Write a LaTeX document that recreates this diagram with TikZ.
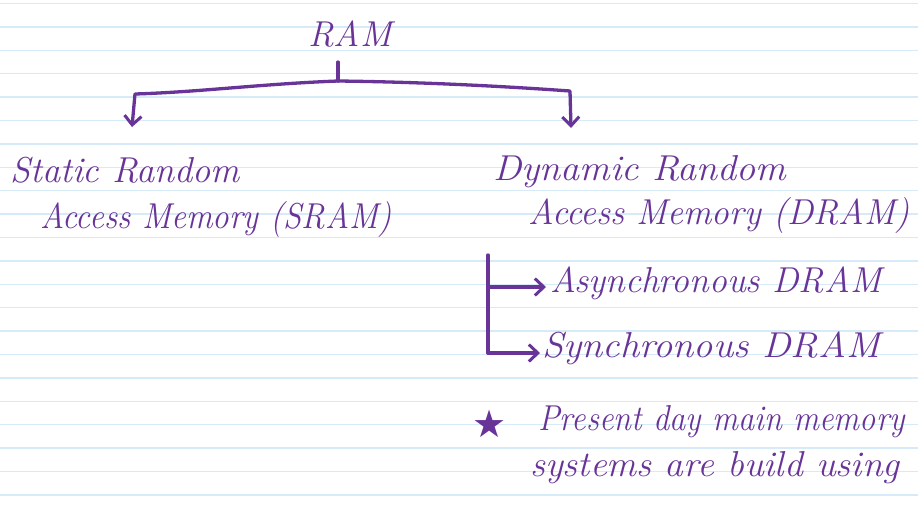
\documentclass[tikz,border=0pt]{standalone}
\usepackage{fontspec}
\newfontfamily\symfont{DejaVu Sans}
\usetikzlibrary{arrows.meta}
\definecolor{ink}{RGB}{104,52,152}
\definecolor{rule}{RGB}{214,234,248}
\newcommand{\hwx}[2]{\scalebox{#1}[1]{#2}}
\begin{document}
\begin{tikzpicture}[x=1pt,y=-1pt,
  hw/.style={text=ink,font=\fontsize{36}{40}\selectfont\itshape,anchor=base west,inner sep=0pt},
  pen/.style={draw=ink,line width=3.3pt,line cap=round,line join=round},
  tip/.style={-{Straight Barb[length=9pt,width=17pt,line width=3pt]}}]
\fill[white] (0,0) rectangle (918,504);
\useasboundingbox (0,0) rectangle (918,504);
\foreach \k in {0,...,21} \draw[rule,line width=1.3pt] (0,3.5+23.4*\k) -- (918,3.5+23.4*\k);
% nodes
\node[hw,anchor=base] (ram) at (350,46) {RAM};
\node[hw] (sram1) at (10,182) {\hwx{1.01}{Static Random}};
\node[hw] (sram2) at (40,228) {\hwx{0.92}{Access Memory (SRAM)}};
\node[hw] (dram1) at (493,180) {\hwx{1.06}{Dynamic Random}};
\node[hw] (dram2) at (528,224) {\hwx{0.98}{Access Memory (DRAM)}};
\node[hw] (async) at (550,292) {\hwx{0.99}{Asynchronous DRAM}};
\node[hw] (sync) at (542,357) {\hwx{1.07}{Synchronous DRAM}};
\node[text=ink,font=\fontsize{38}{40}\selectfont\symfont,inner sep=0pt] (star) at (490,424) {★};
\node[hw] (note1) at (538,430) {\hwx{0.9}{Present day main memory}};
\node[hw] (note2) at (530,476) {\hwx{1.04}{systems are build using}};
% connectors
\coordinate (top) at (338,62);
\coordinate (j) at (338,81);
\coordinate (lc) at (135,94);
\coordinate (rc) at (570,91);
\coordinate (la) at (132,127);
\coordinate (ra) at (571,128);
\draw[pen] (top) -- (j);
\draw[pen,tip] (j) .. controls (260,84) and (200,92) .. (lc) -- (la);
\draw[pen,tip] (j) .. controls (420,82) and (500,86) .. (rc) -- (ra);
\coordinate (bt) at (488,255);
\coordinate (bm) at (488,287);
\coordinate (bb) at (488,353);
\draw[pen] (bt) -- (bb);
\draw[pen,tip] (bm) -- ([xshift=-4pt]async.west |- bm);
\draw[pen,tip] (bb) -- ([xshift=-2pt]sync.west |- bb);
\end{tikzpicture}
\end{document}
